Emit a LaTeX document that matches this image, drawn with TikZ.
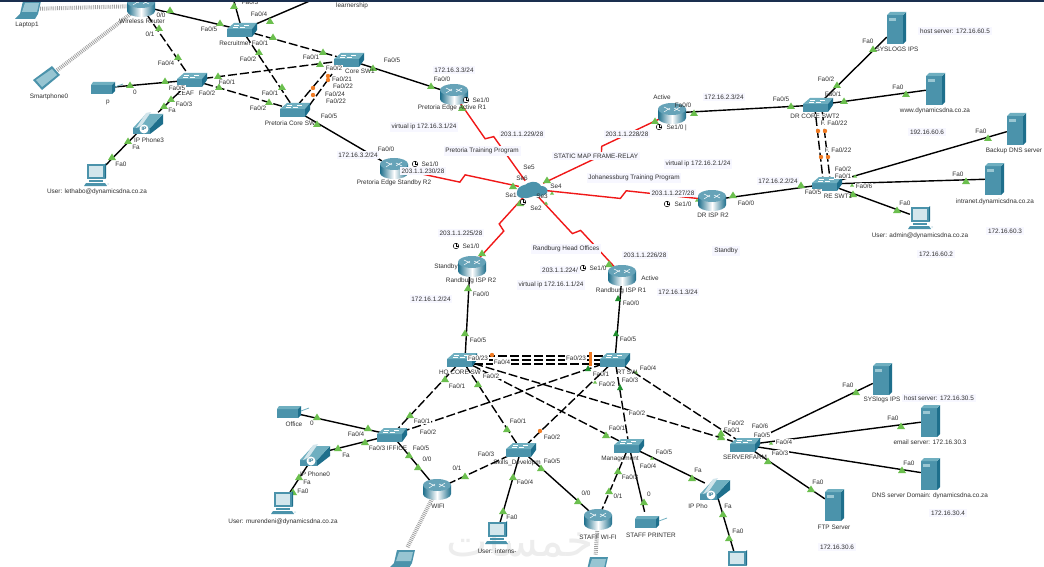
\documentclass[tikz,border=0pt]{standalone}
\usepackage{fontspec}
\setmainfont{Liberation Sans}
\newfontfamily\arabicfont[Script=Arabic]{DejaVu Sans}
\TeXXeTstate=1
\usetikzlibrary{calc,shadings}
\definecolor{swT}{HTML}{6FAFC0}
\definecolor{swF}{HTML}{4B93AB}
\definecolor{swS}{HTML}{1E6F8C}
\definecolor{lnk}{HTML}{6BBF4E}
\definecolor{lnkD}{HTML}{1F8F2E}
\definecolor{ora}{HTML}{F07A22}
\definecolor{ser}{HTML}{F01818}
\definecolor{notebg}{HTML}{F7F7FF}
\definecolor{txt}{HTML}{303030}
\definecolor{scr}{HTML}{D3E6EC}
\definecolor{band}{HTML}{1A2F4F}
\tikzset{
  x=1pt,y=-1pt,
  port/.style={font=\fontsize{6.4}{7}\selectfont,text=txt,inner sep=0.6pt},
  portw/.style={port,fill=white},
  note/.style={port,fill=notebg,inner sep=1.8pt},
  swn/.style={rectangle,inner sep=0pt,minimum width=24pt,minimum height=10pt},
  rtn/.style={rectangle,inner sep=0pt,minimum width=24pt,minimum height=16pt},
  srn/.style={rectangle,inner sep=0pt,minimum width=18pt,minimum height=28pt},
  pcn/.style={rectangle,inner sep=0pt,minimum width=20pt,minimum height=20pt},
  solidl/.style={line width=1.4pt,black},
  dashl/.style={line width=1.4pt,black,dash pattern=on 9pt off 3pt},
  wlessl/.style={line width=4pt,gray!75,dash pattern=on .8pt off 1.1pt},
  serial/.style={line width=1.4pt,ser,to path={
    -- ($(\tikztostart)!#1-.015!(\tikztotarget)!4pt!-90:(\tikztotarget)$)
    -- ($(\tikztostart)!#1+.015!(\tikztotarget)!4pt!90:(\tikztotarget)$)
    -- (\tikztotarget)}},
  switchpic/.pic={
    \fill[swF] (-15,-1) -- (10,-1) -- (10,7) -- (-15,7) -- cycle;
    \fill[swT] (-15,-1) -- (-8,-7) -- (15,-7) -- (10,-1) -- cycle;
    \fill[swS] (10,-1) -- (15,-7) -- (15,0) -- (10,7) -- cycle;
    \draw[white,line width=.4pt] (-8,-5) -- (-3,-5) (-2,-3) -- (3,-3) (2,-5) -- (7,-5) (-4,-3) -- (-9,-3);
  },
  routerpic/.pic={
    \shade[left color=swS,right color=swS,middle color=white] (-14,-4) -- (-14,5) arc[start angle=180,end angle=360,x radius=14pt,y radius=6pt] -- (14,-4) -- cycle;
    \fill[swF!85!white] (0,-4) ellipse[x radius=14pt,y radius=6pt];
    \draw[white,line width=.5pt] (-8,-6) -- (-2,-3) (2,-5) -- (8,-2) (-8,-1) -- (-2,-5) (2,-2) -- (8,-6);
  },
  serverpic/.pic={
    \fill[swF] (-9,-13) rectangle (7,16);
    \fill[swS] (7,-13) -- (10,-16) -- (10,13) -- (7,16) -- cycle;
    \fill[swT] (-9,-13) -- (-6,-16) -- (10,-16) -- (7,-13) -- cycle;
    \fill[swT!70!white] (-7,-10) rectangle (0,-7);
  },
  pcpic/.pic={
    \fill[swF] (-9,-11) rectangle (9,4);
    \fill[scr] (-7,-9) rectangle (7,2);
    \fill[swS] (9,-11) -- (10,-12) -- (10,3) -- (9,4) -- cycle;
    \fill[swF] (-7,5) rectangle (7,7);
    \fill[swF] (-10,8) -- (9,8) -- (11,11) -- (-12,11) -- cycle;
    \fill[scr] (12,9) circle (1);
  },
  laptoppic/.pic={
    \fill[swF] (-5,-8) -- (13,-8) -- (10,5) -- (-8,5) -- cycle;
    \fill[swT!60!scr] (-3,-6) -- (11,-6) -- (9,3) -- (-6,3) -- cycle;
    \fill[swF] (-8,5) -- (10,5) -- (7,10) -- (-13,10) -- cycle;
  },
  phonepic/.pic={
    \fill[swF] (-15,6) -- (2,6) -- (2,12) -- (-15,12) -- cycle;
    \fill[swS] (2,12) -- (15,2) -- (15,-8) -- (2,6) -- cycle;
    \fill[swT] (-15,6) -- (-2,-8) -- (15,-8) -- (2,6) -- cycle;
    \fill[scr] (-12,6) -- (-2,-9) -- (3,-10) -- (-6,3) -- cycle;
    \fill[white] (-4,7) circle (4.5);
    \node[font=\fontsize{5}{5}\selectfont\bfseries,text=swS,inner sep=0pt] (ipmark) at (-4,7) {IP};
  },
  printerpic/.pic={
    \fill[swF] (-12,-3) -- (9,-3) -- (9,6) -- (-12,6) -- cycle;
    \fill[swT] (-12,-3) -- (-10,-6) -- (12,-6) -- (9,-3) -- cycle;
    \fill[swS] (9,-3) -- (12,-6) -- (12,3) -- (9,6) -- cycle;
    \draw[swT,line width=.8pt] (12,-1) -- (20,-4);
  },
  clockpic/.pic={
    \draw[black,line width=.5pt,fill=white] (0,0) circle (2.8);
    \draw[black,line width=.5pt] (0,0) -- (0,-2.8) (0,0) -- (2.8,0);
  }
}
\begin{document}
\begin{tikzpicture}
\useasboundingbox (0,0) rectangle (1044,567);
\clip (0,0) rectangle (1044,567);
\fill[white] (0,0) rectangle (1044,567);
% watermark
\node[font=\arabicfont\fontsize{44}{46}\selectfont,text=black!7,inner sep=0pt] (mark) at (520,540) {\beginR خمسات\endR};
% device anchors
\node[rtn] (wr) at (141,6) {};
\node[pcn] (lap1) at (28,9) {};
\node[pcn] (phone0) at (47,78) {};
\node[swn] (rec) at (242,30) {};
\node[swn] (leaf) at (192,80) {};
\node[swn] (core1) at (349,60) {};
\node[swn] (core2) at (295,110) {};
\node[pcn] (pp) at (103,88) {};
\node[pcn] (ph3) at (148,122) {};
\node[pcn] (pc3) at (96,175) {};
\node[rtn] (edgeA) at (454,94) {};
\node[rtn] (edgeS) at (394,168) {};
\node[rtn] (cloud) at (531,189) {};
\node[rtn] (rb2) at (472,266) {};
\node[rtn] (rb1) at (622,275) {};
\node[rtn] (drA) at (672,113) {};
\node[rtn] (drI) at (712,200) {};
\node[swn] (drC) at (818,105) {};
\node[swn] (re) at (827,184) {};
\node[srn] (sys6) at (896,28) {};
\node[srn] (www) at (935,89) {};
\node[srn] (bkp) at (1016,129) {};
\node[srn] (intr) at (994,179) {};
\node[pcn] (adm) at (920,218) {};
\node[swn] (hq) at (462,360) {};
\node[swn] (rt) at (615,360) {};
\node[swn] (iff) at (392,435) {};
\node[swn] (skl) at (521,450) {};
\node[swn] (mgt) at (629,446) {};
\node[swn] (sf) at (745,445) {};
\node[pcn] (off) at (289,412) {};
\node[pcn] (ph0) at (315,454) {};
\node[pcn] (pc0) at (283,503) {};
\node[rtn] (wifi) at (437,489) {};
\node[pcn] (lapW) at (402,558) {};
\node[pcn] (pcI) at (497,533) {};
\node[rtn] (swf) at (598,519) {};
\node[pcn] (lapS) at (595,565) {};
\node[pcn] (prS) at (647,522) {};
\node[pcn] (phM) at (715,488) {};
\node[pcn] (pcM) at (737,562) {};
\node[srn] (sy3) at (882,379) {};
\node[srn] (eml) at (930,421) {};
\node[srn] (dns) at (930,474) {};
\node[srn] (ftp) at (834,505) {};
\coordinate (up1) at (232,-6);
\coordinate (up2) at (326,-6);
% wireless
\draw[wlessl] (lap1) -- (wr);
\draw[wlessl] (phone0) -- (wr);
\draw[wlessl] (wifi) -- (lapW);
\draw[wlessl] (swf) -- (lapS);
% solid links
\foreach \a/\b in {wr/rec,rec/up1,rec/up2,pp/leaf,ph3/leaf,pc3/ph3,core1/edgeA,core2/edgeS,
  drA/drC,drI/re,drC/sys6,drC/www,re/bkp,re/intr,re/adm,rb1/rt,off/iff,ph0/iff,pc0/ph0,iff/wifi,
  skl/pcI,skl/swf,mgt/prS,mgt/phM,phM/pcM,sf/sy3,sf/eml,sf/dns,sf/ftp}
  \draw[solidl] (\a) -- (\b);
\draw[solidl] ([xshift=-2pt]rb2.center) -- ([xshift=3pt]hq.center);
% dashed links
\foreach \a/\b in {wr/leaf,rec/core1,rec/core2,leaf/core1,leaf/core2,hq/iff,hq/skl,hq/mgt,hq/sf,rt/iff,rt/skl,rt/mgt,rt/sf,skl/wifi,mgt/swf}
  \draw[dashl] (\a) -- (\b);
\draw[dashl] ([shift={(2,-4)}]core2.center) -- ([shift={(-20,8)}]core1.center);
\draw[dashl] ([shift={(14,-4)}]core2.center) -- ([shift={(-17,14)}]core1.center);
\draw[dashl] ([xshift=-3.5pt]drC.center) -- ([xshift=-3.5pt]re.center);
\draw[dashl] ([xshift=3.5pt]drC.center) -- ([xshift=3.5pt]re.center);
\draw[dashl] ([yshift=4pt]hq.center) -- ([yshift=4pt]rt.center);
\draw[dashl] (hq.center) -- (rt.center);
\draw[dashl] ([yshift=-4pt]hq.center) -- ([yshift=-4pt]rt.center);
% serial links
\draw[serial=.46] (edgeA) to (cloud);
\draw[serial=.5] (edgeS) to (cloud);
\draw[serial=.5] (drA) to (cloud);
\draw[serial=.49] (drI) to (cloud);
\draw[serial=.5] (rb2) to (cloud);
\draw[serial=.5] (rb1) to (cloud);
% link lights
\foreach \x/\y in {170/10,220/23,234/6,270/21,273/37,323/52,259/52,282/87,159/28,178/57,218/76,320/64,373/68,219/87,269/102,130/85,165/81,171/99,164/106,128/141,112/157,317/124,431/86,462/108,513/186,547/180,520/203,482/253,609/264,655/121,694/113,733/195,791/106,844/101,906/94,837/85,873/49,988/138,966/181,897/210,801/185,853/194,468/288,465/333,445/379,478/384,410/415,507/429,606/435,317/417,368/428,365/442,338/448,409/455,418/467,465/476,299/477,293/492,513/477,503/511,541/468,578/501,618/471,609/491,644/502,692/478,721/433,723/514,729/538,721/437,856/392,901/426,902/470,768/461,811/489}
  \fill[lnk] (\x-4,\y+3) -- (\x+4,\y+3) -- (\x,\y-3.5) -- cycle;
\foreach \x/\y in {546/203,552/193,697/200,855/176,852/185,771/443,652/458,595/382,636/372}
  \fill[lnk] (\x-2,\y+1.5) -- (\x+2,\y+1.5) -- (\x,\y-1.5) -- cycle;
\foreach \x/\y in {618/298,616/333,588/368,620/387}
  \fill[lnkD] (\x-3,\y+3) -- (\x+3,\y+3) -- (\x,\y-3) -- cycle;
\foreach \x/\y in {818/131,825/131,821/157,828/157,313/88,328/80,313/95,328/76,540/431,492/355}
  \fill[ora] (\x,\y) circle (2.2);
\fill[ora] (589,352) rectangle (592,366);
% devices
\pic at (wr) {routerpic};
\pic at (rec) {switchpic};
\pic at (leaf) {switchpic};
\pic at (core1) {switchpic};
\pic at (core2) {switchpic};
\pic at (pp) {printerpic};
\pic at (ph3) {phonepic};
\pic at (pc3) {pcpic};
\pic at (edgeA) {routerpic};
\pic at (edgeS) {routerpic};
\pic at (rb2) {routerpic};
\pic at (rb1) {routerpic};
\pic at (drA) {routerpic};
\pic at (drI) {routerpic};
\pic at (drC) {switchpic};
\pic at (re) {switchpic};
\pic at (sys6) {serverpic};
\pic at (www) {serverpic};
\pic at (bkp) {serverpic};
\pic at (intr) {serverpic};
\pic at (adm) {pcpic};
\pic at (hq) {switchpic};
\pic at (rt) {switchpic};
\pic at (iff) {switchpic};
\pic at (skl) {switchpic};
\pic at (mgt) {switchpic};
\pic at (sf) {switchpic};
\pic at (off) {printerpic};
\pic at (ph0) {phonepic};
\pic at (pc0) {pcpic};
\pic at (wifi) {routerpic};
\pic at (lapW) {laptoppic};
\pic at (pcI) {pcpic};
\pic at (swf) {routerpic};
\pic at (lapS) {laptoppic};
\pic at (prS) {printerpic};
\pic at (phM) {phonepic};
\pic at (pcM) {pcpic};
\pic at (sy3) {serverpic};
\pic at (eml) {serverpic};
\pic at (dns) {serverpic};
\pic at (ftp) {serverpic};
\pic at (lap1) {laptoppic};
% smartphone
\fill[swF] (33,80) -- (52,66) -- (60,75) -- (42,90) -- cycle;
\fill[swT!60!scr] (36,80) -- (52,69) -- (57,75) -- (42,87) -- cycle;
% cloud
\fill[swF] (517,192) .. controls (518,184) and (526,186) .. (528,183) .. controls (534,180) and (540,183) .. (541,186) .. controls (548,186) and (549,192) .. (546,194) .. controls (540,198) and (535,194) .. (531,197) .. controls (526,199) and (515,199) .. (517,192) -- cycle;
% clocks
\pic at (466,100) {clockpic};
\pic at (415,164) {clockpic};
\pic at (456,246) {clockpic};
\pic at (583,268) {clockpic};
\pic at (659,127) {clockpic};
\pic at (667,204) {clockpic};
\pic at (523,202) {clockpic};
% labels: top-left
\node[port] (t1) at (27,25) {Laptop1};
\node[port] (t2) at (142,21) {Wireless Router};
\node[port] (t3) at (49,97) {Smartphone0};
\node[portw] (t4) at (161,15) {0/0};
\node[port] (t5) at (150,34) {0/1};
\node[port] (t6) at (166,63) {Fa0/4};
\node[port] (t7) at (209,29) {Fa0/5};
\node[port] (t8) at (235,43) {Recruitmer};
\node[port] (t9) at (260,43) {Fa0/1};
\node[port] (t10) at (259,14) {Fa0/4};
\node[port] (t11) at (250,2) {Fa0/3};
\node[port] (t12) at (352,6) {learnership};
\node[port] (t13) at (248,59) {Fa0/2};
\node[port] (t14) at (311,57) {Fa0/1};
\node[portw] (t15) at (334,68) {Fa0/2};
\node[port] (t16) at (360,71) {Core SW1};
\node[port] (t17) at (392,60) {Fa0/5};
\node[port] (t18) at (342,79) {Fa0/21};
\node[portw] (t19) at (343,86) {Fa0/22};
\node[port] (t20) at (335,94) {Fa0/24};
\node[portw] (t21) at (336,101) {Fa0/22};
\node[port] (t22) at (270,93) {Fa0/1};
\node[port] (t23) at (258,108) {Fa0/2};
\node[port] (t24) at (329,116) {Fa0/5};
\node[port] (t25) at (290,123) {Pretoria Core SW};
\node[port] (t26) at (186,93) {LEAF};
\node[portw] (t27) at (177,88) {Fa0/5};
\node[portw] (t28) at (207,93) {Fa0/2};
\node[port] (t29) at (227,82) {Fa0/1};
\node[port] (t30) at (184,104) {Fa0/3};
\node[port] (t31) at (172,110) {Fa};
\node[port] (t32) at (135,92) {0};
\node[port] (t33) at (108,102) {p};
\node[port] (t34) at (149,140) {IP Phone3};
\node[portw] (t35) at (136,147) {Fa};
\node[port] (t36) at (121,164) {Fa0};
\node[port] (t37) at (97,192) {User: lethabo@dynamicsdna.co.za};
% labels: middle
\node[note] (m1) at (454,70) {172.16.3.3/24};
\node[port] (m2) at (442,79) {Fa0/0};
\node[port] (m3) at (481,100) {Se1/0};
\node[port] (m4) at (452,108) {Pretoria Edge Active R1};
\node[note] (m5) at (424,127) {virtual ip 172.16.3.1/24};
\node[note] (m6) at (522,134) {203.1.1.229/28};
\node[note] (m7) at (482,151) {Pretoria Training Program};
\node[note] (m8) at (358,155) {172.16.3.2/24};
\node[port] (m9) at (386,149) {Fa0/0};
\node[port] (m10) at (430,164) {Se1/0};
\node[note] (m11) at (423,171) {203.1.1.230/28};
\node[port] (m12) at (394,183) {Pretoria Edge Standby R2};
\node[port] (m13) at (529,167) {Se5};
\node[port] (m14) at (522,178) {Se6};
\node[port] (m15) at (511,195) {Se1};
\node[port] (m16) at (536,208) {Se2};
\node[port] (m17) at (542,196) {Se3};
\node[port] (m18) at (556,186) {Se4};
\node[note] (m19) at (627,134) {203.1.1.228/28};
\node[note] (m20) at (596,156) {STATIC MAP FRAME-RELAY};
\node[port] (m21) at (662,97) {Active};
\node[port] (m22) at (683,105) {Fa0/0};
\node[port] (m23) at (675,127) {Se1/0};
\node[port] (m24) at (686,128) {|};
\node[note] (m25) at (724,97) {172.16.2.3/24};
\node[port] (m26) at (781,99) {Fa0/5};
\node[note] (m27) at (698,164) {virtual ip 172.16.2.1/24};
\node[note] (m28) at (634,178) {Johanessburg Training Program};
\node[note] (m29) at (673,193) {203.1.1.227/28};
\node[port] (m30) at (683,204) {Se1/0};
\node[port] (m31) at (713,215) {DR ISP R2};
\node[port] (m32) at (746,203) {Fa0/0};
\node[note] (m33) at (778,181) {172.16.2.2/24};
\node[portw] (m34) at (813,192) {Fa0/5};
\node[note] (m35) at (726,251) {Standby};
\node[note] (m36) at (461,233) {203.1.1.225/28};
\node[port] (m37) at (471,246) {Se1/0};
\node[port] (m38) at (446,267) {Standby};
\node[port] (m39) at (471,281) {Randburg ISP R2};
\node[note] (m40) at (566,249) {Randburg Head Offices};
\node[note] (m41) at (645,255) {203.1.1.226/28};
\node[note] (m42) at (560,270) {203.1.1.224/};
\node[port] (m43) at (598,268) {Se1/0};
\node[note] (m44) at (551,285) {virtual ip 172.16.1.1/24};
\node[port] (m45) at (650,278) {Active};
\node[port] (m46) at (621,291) {Randburg ISP R1};
\node[note] (m47) at (678,292) {172.16.1.3/24};
\node[note] (m48) at (431,299) {172.16.1.2/24};
\node[port] (m49) at (481,294) {Fa0/0};
\node[port] (m50) at (631,303) {Fa0/0};
% labels: right top
\node[port] (r1) at (868,41) {Fa0};
\node[port] (r2) at (897,49) {SYSLOGS IPS};
\node[note] (r3) at (955,31) {host server: 172.16.60.5};
\node[port] (r4) at (826,79) {Fa0/2};
\node[port] (r5) at (833,94) {Fa0/1};
\node[port] (r6) at (898,87) {Fa0};
\node[port] (r7) at (935,111) {www.dynamicsdna.co.za};
\node[port] (r8) at (815,116) {DR CORE SWT2};
\node[portw] (r9) at (834,123) {F. Fa0/22};
\node[portw] (r10) at (838,150) {F. Fa0/22};
\node[note] (r11) at (927,132) {192.16.60.6};
\node[port] (r12) at (981,131) {Fa0};
\node[port] (r13) at (1014,151) {Backup DNS server};
\node[portw] (r14) at (843,176) {Fa0/1};
\node[portw] (r15) at (843,169) {Fa0/2};
\node[portw] (r16) at (864,186) {Fa0/6};
\node[port] (r17) at (838,196) {RE SWT1};
\node[port] (r18) at (958,174) {Fa0};
\node[port] (r19) at (995,202) {intranet.dynamicsdna.co.za};
\node[port] (r20) at (905,203) {Fa0};
\node[port] (r21) at (920,236) {User: admin@dynamicsdna.co.za};
\node[note] (r22) at (1005,231) {172.16.60.3};
\node[note] (r23) at (936,254) {172.16.60.2};
% labels: lower centre
\node[portw] (c1) at (478,340) {Fa0/5};
\node[portw] (c2) at (628,339) {Fa0/5};
\node[portw] (c3) at (478,358) {Fa0/23};
\node[portw] (c4) at (502,362) {Fa0/4};
\node[portw] (c5) at (576,358) {Fa0/23};
\node[port] (c6) at (648,368) {Fa0/4};
\node[port] (c7) at (601,374) {Fa0/1};
\node[portw] (c8) at (607,384) {Fa0/2};
\node[portw] (c9) at (630,380) {Fa0/3};
\node[port] (c10) at (627,372) {RT SW};
\node[portw] (c11) at (491,376) {Fa0/2};
\node[port] (c12) at (457,386) {Fa0/1};
\node[port] (c13) at (460,373) {HQ CORE SW};
\node[portw] (c14) at (422,421) {Fa0/1};
\node[port] (c15) at (428,432) {Fa0/2};
\node[port] (c16) at (518,421) {Fa0/1};
\node[port] (c17) at (552,437) {Fa0/2};
\node[portw] (c18) at (637,413) {Fa0/2};
\node[port] (c19) at (617,428) {Fa0/1};
\node[port] (c20) at (736,423) {Fa0/2};
\node[port] (c21) at (732,430) {Fa0/1};
\node[port] (c22) at (760,426) {Fa0/6};
\node[portw] (c23) at (762,435) {Fa0/5};
\node[portw] (c24) at (784,442) {Fa0/4};
\node[portw] (c25) at (780,453) {Fa0/3};
\node[port] (c26) at (745,457) {SERVERFARM};
% labels: bottom left
\node[port] (b1) at (294,424) {Office};
\node[port] (b2) at (312,423) {0};
\node[port] (b3) at (356,434) {Fa0/4};
\node[port] (b4) at (388,448) {Fa0/3 IFFICE};
\node[port] (b5) at (346,455) {Fa};
\node[port] (b6) at (315,474) {IP Phone0};
\node[port] (b7) at (307,482) {Fa};
\node[port] (b8) at (303,491) {Fa0};
\node[port] (b9) at (283,522) {User: murendeni@dynamicsdna.co.za};
\node[port] (b10) at (421,448) {Fa0/5};
\node[port] (b11) at (427,459) {0/0};
\node[port] (b12) at (457,468) {0/1};
\node[port] (b13) at (438,506) {WIFI};
\node[port] (b14) at (486,454) {Fa0/3};
\node[port] (b15) at (517,463) {Skills\_Developm};
\node[port] (b16) at (552,461) {Fa0/5};
\node[port] (b17) at (525,482) {Fa0/4};
\node[port] (b18) at (512,517) {Fa0};
\node[port] (b19) at (497,551) {User: interns-};
% labels: bottom right
\node[port] (d1) at (586,493) {0/0};
\node[port] (d2) at (618,496) {0/1};
\node[port] (d3) at (598,537) {STAFF WI-FI};
\node[port] (d4) at (651,535) {STAFF PRINTER};
\node[port] (d5) at (649,494) {0};
\node[port] (d6) at (630,477) {Fa0/3};
\node[port] (d7) at (648,466) {Fa0/4};
\node[port] (d8) at (664,452) {Fa0/5};
\node[port] (d9) at (620,459) {Management};
\node[port] (d10) at (698,470) {Fa};
\node[port] (d11) at (698,506) {IP Pho};
\node[port] (d12) at (728,506) {Fa};
\node[port] (d13) at (738,531) {Fa0};
\node[port] (d14) at (848,385) {Fa0};
\node[port] (d15) at (882,400) {SYSlogs IPS};
\node[note] (d16) at (939,398) {host server: 172.16.30.5};
\node[port] (d17) at (893,418) {Fa0};
\node[port] (d18) at (930,442) {email server: 172.16.30.3};
\node[port] (d19) at (909,463) {Fa0};
\node[port] (d20) at (930,496) {DNS server Domain: dynamicsdna.co.za};
\node[note] (d21) at (948,513) {172.16.30.4};
\node[port] (d22) at (818,482) {Fa0};
\node[port] (d23) at (834,527) {FTP Server};
\node[note] (d24) at (837,547) {172.16.30.6};
% top band
\fill[band] (0,0) rectangle (1044,2.5);
\end{tikzpicture}
\end{document}
